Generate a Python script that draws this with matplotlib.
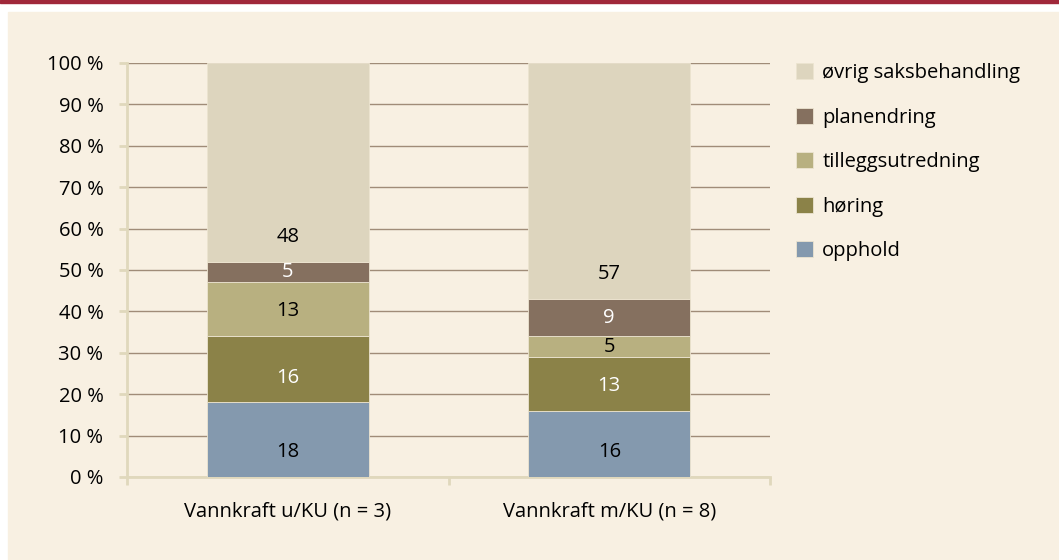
import matplotlib
matplotlib.use("Agg")
import matplotlib.pyplot as plt
from matplotlib.patches import Rectangle
import numpy as np

categories = ["Vannkraft u/KU (n = 3)", "Vannkraft m/KU (n = 8)"]
series = ["opphold", "høring", "tilleggsutredning", "planendring", "øvrig saksbehandling"]
values = {
    "opphold": [18, 16],
    "høring": [16, 13],
    "tilleggsutredning": [13, 5],
    "planendring": [5, 9],
    "øvrig saksbehandling": [48, 57],
}
colors = {
    "opphold": "#8499ae",
    "høring": "#8b8248",
    "tilleggsutredning": "#b8b080",
    "planendring": "#85705f",
    "øvrig saksbehandling": "#ddd5be",
}
label_colors = {
    "opphold": ["black", "black"],
    "høring": ["white", "white"],
    "tilleggsutredning": ["black", "black"],
    "planendring": ["white", "white"],
    "øvrig saksbehandling": ["black", "black"],
}
yticks = list(range(0, 101, 10))

plt.rcParams["font.family"] = ["Open Sans", "DejaVu Sans"]
bg = "#f8f0e2"
fs = 14.5

fig = plt.figure(figsize=(10.59, 5.6), dpi=100)
fig.patch.set_facecolor("white")
# red band and beige panel behind everything
fig.add_artist(Rectangle((0, 1 - 3 / 560), 1, 3 / 560, transform=fig.transFigure,
                         color="#a0283a", zorder=-10))
fig.add_artist(Rectangle((8 / 1059, 0), 1, 1 - 12 / 560, transform=fig.transFigure,
                         color=bg, zorder=-10))

ax = fig.add_axes([127 / 1059, 1 - 477 / 560, (770 - 127) / 1059, (477 - 63) / 560])
ax.set_facecolor("none")

x = np.arange(len(categories))
bottom = np.zeros(len(categories))
handles = []
for s in series:
    v = np.array(values[s], dtype=float)
    h = ax.bar(x, v, 0.505, bottom=bottom, color=colors[s], edgecolor="#ece4d0",
               linewidth=0.6, zorder=3, label=s)
    handles.append(h)
    for i in range(len(categories)):
        ax.text(x[i], bottom[i] + min(v[i] / 2, 6), f"{int(v[i])}", ha="center",
                va="center", fontsize=fs, color=label_colors[s][i], zorder=4)
    bottom += v

ax.set_xlim(-0.5, 1.5)
ax.set_ylim(0, 100)
ax.set_yticks(yticks)
ax.set_yticklabels([f"{t} %" for t in yticks], fontsize=fs)
ax.yaxis.grid(True, color="#a08c78", linewidth=1, zorder=1)
ax.set_axisbelow(True)
ax.set_xticks(x)
ax.set_xticklabels(categories, fontsize=fs)
ax.tick_params(axis="x", length=0, pad=18)
ax.tick_params(axis="y", length=6, color="#e0d8bc", width=2, pad=11)
ax.set_xticks([-0.5, 0.5, 1.5], minor=True)
ax.tick_params(axis="x", which="minor", length=6, color="#e0d8bc", width=2)
for side in ["top", "right"]:
    ax.spines[side].set_visible(False)
ax.spines["left"].set_color("#e0d8bc")
ax.spines["left"].set_linewidth(2)
ax.spines["bottom"].set_color("#e0d8bc")
ax.spines["bottom"].set_linewidth(2)

leg = fig.legend(handles[::-1], series[::-1], loc="upper left",
                 bbox_to_anchor=(778 / 1059, 1 - 45 / 560), frameon=False,
                 fontsize=fs, handlelength=0.85, handleheight=0.85,
                 handletextpad=0.45, labelspacing=1.22)

fig.savefig("out.png", dpi=100, facecolor=fig.get_facecolor())
